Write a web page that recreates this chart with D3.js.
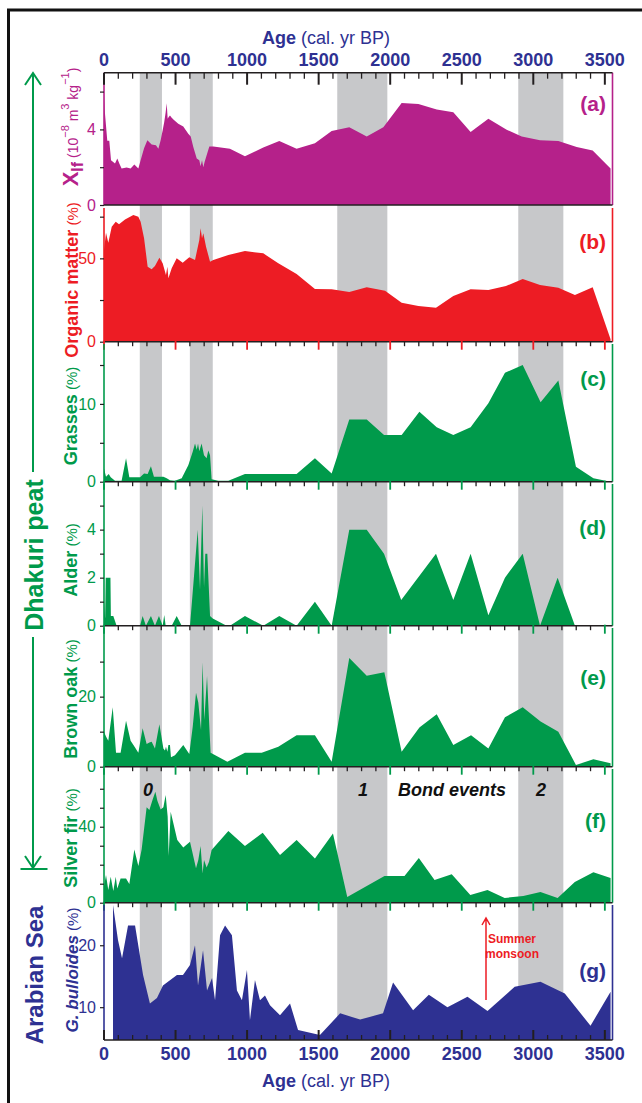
<!DOCTYPE html>
<html><head><meta charset="utf-8">
<script src="https://cdn.jsdelivr.net/npm/d3@7"></script>
<style>
body{margin:0;background:#fff}
svg{display:block}
text{font-family:Arial,"Liberation Sans",Helvetica,sans-serif}
</style>
</head><body>
<svg id="chart" width="642" height="1103"></svg>
<script>
// ---- Age axis ----
const ageMajorTicks = [0, 500, 1000, 1500, 2000, 2500, 3000, 3500];
const ageMinorTicks = d3.range(0, 3501, 100);

// Bond-event cold intervals (cal. yr BP)
const grayBands = [[250, 405], [600, 760], [1630, 1980], [2895, 3210]];

// (a) magnetic susceptibility, 10^-8 m^3 kg^-1
const magSus = [[0,5.9],[5,5.0],[23,3.4],[37,3.4],[49,2.37],[77,2.2],[93,2.46],[107,2.2],[123,1.93],[158,1.98],[186,1.93],[212,2.14],[240,1.93],[256,2.37],[280,3.0],[303,3.42],[333,3.2],[363,3.16],[380,2.98],[396,3.42],[410,3.95],[421,4.39],[431,4.91],[438,5.39],[445,4.56],[452,4.65],[461,4.74],[473,4.61],[489,4.5],[519,4.3],[554,4.16],[589,3.77],[606,3.63],[624,3.07],[648,2.46],[666,2.37],[675,2.05],[685,2.37],[694,2.0],[703,2.28],[736,3.1],[764,3.1],[880,2.98],[985,2.58],[1113,3.04],[1225,3.39],[1346,2.98],[1474,3.27],[1591,3.91],[1714,4.12],[1836,3.63],[1952,4.12],[2080,5.4],[2197,5.35],[2325,5.05],[2441,4.91],[2562,3.86],[2686,4.56],[2814,3.98],[2919,3.63],[3047,3.42],[3175,3.39],[3303,3.07],[3415,2.89],[3540,1.93]];

// (b) organic matter, %
const organicMatter = [[0,55],[14,65.3],[30,59.3],[54,69],[82,72],[105,70.5],[147,73.3],[205,76],[240,75],[256,72],[280,62],[305,45],[333,43.4],[356,45.4],[387,50.4],[410,47],[433,40],[443,45],[450,38],[473,44],[508,50],[550,47.4],[596,50.6],[636,49],[666,61],[675,68],[685,62],[694,65],[713,57],[741,48],[764,49],[869,52],[985,54.4],[1113,53],[1218,47],[1346,40.6],[1474,31.6],[1591,31.4],[1714,29.8],[1836,32.6],[1964,30.6],[2080,23.4],[2197,21.4],[2320,20.4],[2441,27.4],[2562,31.4],[2686,31],[2809,33.4],[2926,37.6],[3047,34],[3175,32.4],[3291,28],[3415,32.6],[3540,1.4]];

// (c) grasses pollen, %
const grasses = [[0,1.7],[14,0.64],[33,1.0],[47,0.56],[77,0.13],[123,0.13],[154,3.0],[177,0.56],[252,0.56],[280,1.07],[305,1.0],[328,2.0],[349,0.64],[415,0.64],[438,0.43],[461,0.2],[496,0.13],[543,0.43],[589,2.1],[620,3.86],[636,4.9],[648,4.1],[657,4.9],[666,3.9],[682,4.9],[699,3.4],[717,3.0],[729,4.0],[741,3.4],[752,0.3],[799,0.13],[869,0.13],[985,1.0],[1346,1.0],[1474,3.0],[1591,1.07],[1714,8.0],[1836,8.0],[1957,6.0],[2080,6.0],[2204,9.0],[2325,7.0],[2441,6.0],[2562,7.0],[2686,10.1],[2802,14.0],[2926,15.0],[3051,10.2],[3175,13.0],[3298,1.93],[3420,0.43],[3540,0]];

// (d) alder pollen, %
const alder = [[0,1.0],[8,0.3],[12,2.0],[45,2.0],[48,0.4],[65,0.4],[88,0],[252,0],[270,0.4],[293,0],[328,0.4],[356,0],[384,0.4],[410,0],[421,0.45],[431,0],[473,0],[508,0.4],[543,0],[601,0],[655,4.0],[671,1.5],[687,5.0],[699,1.6],[708,3.0],[722,3.0],[741,0.4],[760,0.3],[857,0],[880,0],[985,0.4],[1113,0],[1225,0.4],[1346,0],[1474,1.0],[1591,0],[1714,4.0],[1836,4.0],[1957,3.0],[2077,1.07],[2320,3.0],[2441,1.07],[2562,3.0],[2686,0.44],[2802,2.0],[2926,3.0],[3047,0],[3170,2.0],[3291,0],[3540,0]];

// (e) brown oak pollen, %
const brownOak = [[0,10],[14,8.6],[30,7.4],[61,17],[84,4.0],[116,4.0],[154,13.1],[186,7.4],[217,5.5],[240,4.0],[270,11],[298,6.5],[317,6.9],[333,7.1],[356,5.2],[387,12.1],[415,5.2],[426,4.6],[433,5.7],[443,4.3],[450,6.2],[461,6.2],[468,2.7],[496,3.3],[554,6.2],[596,3.6],[620,11.4],[643,21.1],[659,18.3],[678,10.5],[689,29.8],[701,13.3],[720,25.9],[734,13.3],[745,4.0],[862,1.4],[985,4.0],[1102,4.0],[1218,5.7],[1346,9.0],[1474,9.0],[1591,1.4],[1714,31],[1836,26],[1959,27],[2080,4.3],[2204,11.2],[2325,15],[2441,6.2],[2565,9.0],[2686,5.2],[2802,14.1],[2926,17],[3051,12.9],[3175,10],[3298,0.5],[3420,2.1],[3540,1.0]];

// (f) silver fir pollen, %
const silverFir = [[0,8.8],[14,14.6],[30,6.7],[47,13.7],[65,6.1],[82,13.7],[93,7.5],[116,12.8],[154,12.8],[177,9.8],[212,28],[240,19.3],[263,28],[298,50.2],[317,48.8],[340,54.4],[359,58.4],[373,53.7],[396,49.1],[415,50.2],[431,56.7],[445,45.3],[452,24.6],[466,47.9],[512,33],[554,29.1],[601,32.1],[643,18.1],[659,22.5],[675,29.8],[689,15.4],[699,22.5],[717,18.6],[734,21.6],[752,27.7],[869,37.7],[985,29.8],[1109,36.8],[1230,25.1],[1346,33],[1474,23.3],[1600,36.5],[1700,3],[1960,14],[2100,14],[2200,23.5],[2310,12],[2430,15],[2560,4],[2680,6.7],[2800,2.5],[2930,3.5],[3050,5.6],[3170,2.5],[3290,10.9],[3420,16],[3540,13]];

// (g) Globigerina bulloides, Arabian Sea, %
const bulloides = [[63,26.5],[98,20.8],[126,17.9],[168,23.2],[217,23.2],[273,15.2],[321,10.6],[370,11.5],[412,13.5],[510,15.2],[552,15.2],[601,16.8],[636,20],[657,13.5],[692,19.2],[720,12.7],[755,14.7],[776,11.1],[811,21.6],[846,23.2],[894,21.6],[929,12.7],[964,11.1],[999,16],[1020,7.9],[1055,14.4],[1090,11.1],[1125,11.9],[1160,10.3],[1230,8.7],[1300,10.6],[1356,6.3],[1509,5.5],[1650,9],[1790,8],[1950,9],[2020,14],[2160,9.5],[2270,12],[2400,10],[2540,11.7],[2680,9.4],[2870,13.3],[3050,14.1],[3220,12.2],[3400,7],[3540,12.5]];

// ---- styling ----
const COL = {
  mag: "#b5218a", red: "#ed1c24", green: "#009a4b", blue: "#2e3192",
  ink: "#231f20", band: "#c7c8ca"
};

const svg = d3.select("#chart");
const x = d3.scaleLinear().domain([0, 3550]).range([104, 612]);
const plotTop = 72.7, plotBottom = 1040;

// outer frame
svg.append("path").attr("d", "M8.5,1103 V10 H642").attr("fill", "none")
  .attr("stroke", "#111").attr("stroke-width", 3);

// gray Bond-event bands behind every record
svg.append("g").selectAll("rect").data(grayBands).join("rect")
  .attr("x", d => x(d[0])).attr("width", d => x(d[1]) - x(d[0]))
  .attr("y", plotTop).attr("height", plotBottom - plotTop)
  .attr("fill", COL.band);

const panels = [
  {id: "(a)", data: magSus, color: COL.mag, top: 72.7, bottom: 205, domain: [0, 7], ticks: [0,2,4,6], labels: [0,4], letterY: 111},
  {id: "(b)", data: organicMatter, color: COL.red, top: 208, bottom: 341.7, domain: [0, 80.2], ticks: [0,25,50,75], labels: [0,50], letterY: 249, bottomTicks: true},
  {id: "(c)", data: grasses, color: COL.green, top: 344, bottom: 481.7, domain: [0, 17.7], ticks: [0,5,10,15], labels: [0,10], letterY: 386, bottomTicks: true},
  {id: "(d)", data: alder, color: COL.green, top: 484, bottom: 625.7, domain: [0, 5.9], ticks: [0,1,2,3,4,5], labels: [0,2,4], letterY: 535, bottomTicks: true},
  {id: "(e)", data: brownOak, color: COL.green, top: 628, bottom: 766.7, domain: [0, 39.6], ticks: [0,10,20,30], labels: [0,20], letterY: 685, bottomTicks: true},
  {id: "(f)", data: silverFir, color: COL.green, top: 769, bottom: 902.7, domain: [0, 70.4], ticks: [0,10,20,30,40,50,60], labels: [0,40], letterY: 828, bottomTicks: true},
  {id: "(g)", data: bulloides, color: COL.blue, top: 905, bottom: 1040, domain: [4.7, 26.5], ticks: [10,20], labels: [10,20], letterY: 978}
];

panels.forEach(p => {
  const y = d3.scaleLinear().domain(p.domain).range([p.bottom, p.top]).clamp(true);
  const g = svg.append("g");
  g.append("path").datum(p.data)
    .attr("d", d3.area().x(d => x(d[0])).y0(p.bottom).y1(d => y(d[1])))
    .attr("fill", p.color);

  // left and right frame lines
  g.append("line").attr("x1", x(0)).attr("x2", x(0)).attr("y1", p.top).attr("y2", p.bottom)
    .attr("stroke", p.color).attr("stroke-width", 1.6);
  g.append("line").attr("x1", 612.5).attr("x2", 612.5).attr("y1", p.top).attr("y2", p.bottom)
    .attr("stroke", p.color).attr("stroke-width", 1.6);

  // y axis
  const ax = g.append("g").attr("transform", `translate(${x(0)},0)`)
    .call(d3.axisLeft(y).tickValues(p.ticks).tickSize(4).tickPadding(4)
      .tickFormat(d => p.labels.includes(d) ? d : ""));
  ax.select(".domain").remove();
  ax.selectAll(".tick line").attr("stroke", COL.ink).attr("stroke-width", 1.2);
  ax.selectAll(".tick text").attr("fill", p.color).attr("font-size", 16)
    .attr("font-family", "Arial, 'Liberation Sans', sans-serif");

  // baseline
  g.append("line").attr("x1", x(0)).attr("x2", 612.5).attr("y1", p.bottom).attr("y2", p.bottom)
    .attr("stroke", COL.ink).attr("stroke-width", 1.4);

  if (p.bottomTicks) {
    g.append("g").selectAll("line").data(ageMinorTicks.filter(t => t % 500 !== 0)).join("line")
      .attr("x1", d => x(d)).attr("x2", d => x(d)).attr("y1", p.bottom).attr("y2", p.bottom + 4.5)
      .attr("stroke", COL.ink).attr("stroke-width", 1.3);
    g.append("g").selectAll("line").data(ageMajorTicks).join("line")
      .attr("x1", d => x(d)).attr("x2", d => x(d)).attr("y1", p.bottom - 1).attr("y2", p.bottom + 8)
      .attr("stroke", p.color).attr("stroke-width", 1.8);
  }

  svg.append("text").attr("x", 606).attr("y", p.letterY).attr("text-anchor", "end")
    .attr("font-size", 21).attr("font-weight", "bold").attr("fill", p.color).text(p.id);
});

// top age axis
const topAx = svg.append("g");
topAx.append("line").attr("x1", x(0)).attr("x2", 612.5).attr("y1", plotTop).attr("y2", plotTop)
  .attr("stroke", COL.ink).attr("stroke-width", 1.6);
topAx.selectAll(".mn").data(ageMinorTicks.filter(t => t % 500 !== 0)).join("line")
  .attr("x1", d => x(d)).attr("x2", d => x(d)).attr("y1", plotTop).attr("y2", plotTop + 6)
  .attr("stroke", COL.ink).attr("stroke-width", 1.3);
topAx.selectAll(".mj").data(ageMajorTicks).join("line")
  .attr("x1", d => x(d)).attr("x2", d => x(d)).attr("y1", plotTop).attr("y2", plotTop + 12)
  .attr("stroke", COL.ink).attr("stroke-width", 2);
topAx.selectAll("text").data(ageMajorTicks).join("text")
  .attr("x", d => x(d)).attr("y", 66).attr("text-anchor", "middle")
  .attr("font-size", 18).attr("font-weight", "bold").attr("fill", COL.blue).text(d => d);

// bottom age axis
const botAx = svg.append("g");
botAx.selectAll(".mn").data(ageMinorTicks.filter(t => t % 500 !== 0)).join("line")
  .attr("x1", d => x(d)).attr("x2", d => x(d)).attr("y1", plotBottom).attr("y2", plotBottom - 5)
  .attr("stroke", COL.ink).attr("stroke-width", 1.3);
botAx.selectAll(".mj").data(ageMajorTicks).join("line")
  .attr("x1", d => x(d)).attr("x2", d => x(d)).attr("y1", plotBottom).attr("y2", plotBottom - 10)
  .attr("stroke", COL.ink).attr("stroke-width", 2);
botAx.selectAll("text").data(ageMajorTicks).join("text")
  .attr("x", d => x(d)).attr("y", 1060).attr("text-anchor", "middle")
  .attr("font-size", 18).attr("font-weight", "bold").attr("fill", COL.blue).text(d => d);

function ageTitle(yPos) {
  const t = svg.append("text").attr("x", 326).attr("y", yPos).attr("text-anchor", "middle")
    .attr("fill", COL.blue).attr("font-size", 18);
  t.append("tspan").attr("font-weight", "bold").text("Age");
  t.append("tspan").text(" (cal. yr BP)");
}
ageTitle(44);
ageTitle(1087);

// rotated axis titles
function rotLabel(bx, cy, color, parts) {
  const t = svg.append("text").attr("transform", `translate(${bx},${cy}) rotate(-90)`)
    .attr("text-anchor", "middle").attr("fill", color);
  parts.forEach(pt => {
    const s = t.append("tspan").text(pt.t).attr("font-size", pt.fs);
    if (pt.b) s.attr("font-weight", "bold");
    if (pt.i) s.attr("font-style", "italic");
    if (pt.dy) s.attr("dy", pt.dy);
  });
}
rotLabel(78, 127, COL.mag, [
  {t: "X", fs: 22, b: 1}, {t: "lf", fs: 16, b: 1, dy: 5}, {t: " (10", fs: 14, dy: -5},
  {t: "−8", fs: 11, dy: -9}, {t: " m", fs: 14, dy: 9}, {t: "3", fs: 11, dy: -9},
  {t: " kg", fs: 14, dy: 9}, {t: "−1", fs: 11, dy: -9}, {t: ")", fs: 14, dy: 9}
]);
rotLabel(78, 280, COL.red, [{t: "Organic matter", fs: 18, b: 1}, {t: " (%)", fs: 15}]);
rotLabel(77, 416, COL.green, [{t: "Grasses", fs: 18, b: 1}, {t: " (%)", fs: 15}]);
rotLabel(77, 560, COL.green, [{t: "Alder", fs: 18, b: 1}, {t: " (%)", fs: 15}]);
rotLabel(77, 699, COL.green, [{t: "Brown oak", fs: 18, b: 1}, {t: " (%)", fs: 15}]);
rotLabel(77, 838, COL.green, [{t: "Silver fir", fs: 18, b: 1}, {t: " (%)", fs: 15}]);
rotLabel(78, 970, COL.blue, [{t: "G. bulloides", fs: 17, b: 1, i: 1}, {t: " (%)", fs: 15}]);

// site labels
rotLabel(43, 555, COL.green, [{t: "Dhakuri peat", fs: 25, b: 1}]);
rotLabel(43, 975, COL.blue, [{t: "Arabian Sea", fs: 24, b: 1}]);

// arrows spanning the peat records
const arr = svg.append("g").attr("stroke", COL.green).attr("stroke-width", 2).attr("fill", "none");
arr.append("path").attr("d", "M33,472 V73 M25,85 L33,73 L41,85");
arr.append("path").attr("d", "M33,637 V868 M25,856 L33,868 L41,856 M20.5,869 H47.5");

// Bond event annotations
const bond = svg.append("g").attr("font-weight", "bold").attr("font-style", "italic")
  .attr("fill", "#111").attr("font-size", 18);
bond.append("text").attr("x", 148).attr("y", 796).attr("text-anchor", "middle").text("0");
bond.append("text").attr("x", 363).attr("y", 796).attr("text-anchor", "middle").text("1");
bond.append("text").attr("x", 452).attr("y", 796).attr("text-anchor", "middle").text("Bond events");
bond.append("text").attr("x", 541).attr("y", 796).attr("text-anchor", "middle").text("2");

// summer monsoon arrow
const mon = svg.append("g");
mon.append("text").attr("x", 512).attr("y", 943).attr("text-anchor", "middle")
  .attr("font-size", 12).attr("font-weight", "bold").attr("fill", COL.red).text("Summer");
mon.append("text").attr("x", 512).attr("y", 958).attr("text-anchor", "middle")
  .attr("font-size", 12).attr("font-weight", "bold").attr("fill", COL.red).text("monsoon");
mon.append("path").attr("d", "M486,1000 V918 M482,925 L486,918 L490,925")
  .attr("stroke", COL.red).attr("stroke-width", 1.5).attr("fill", "none");
</script>
</body></html>
